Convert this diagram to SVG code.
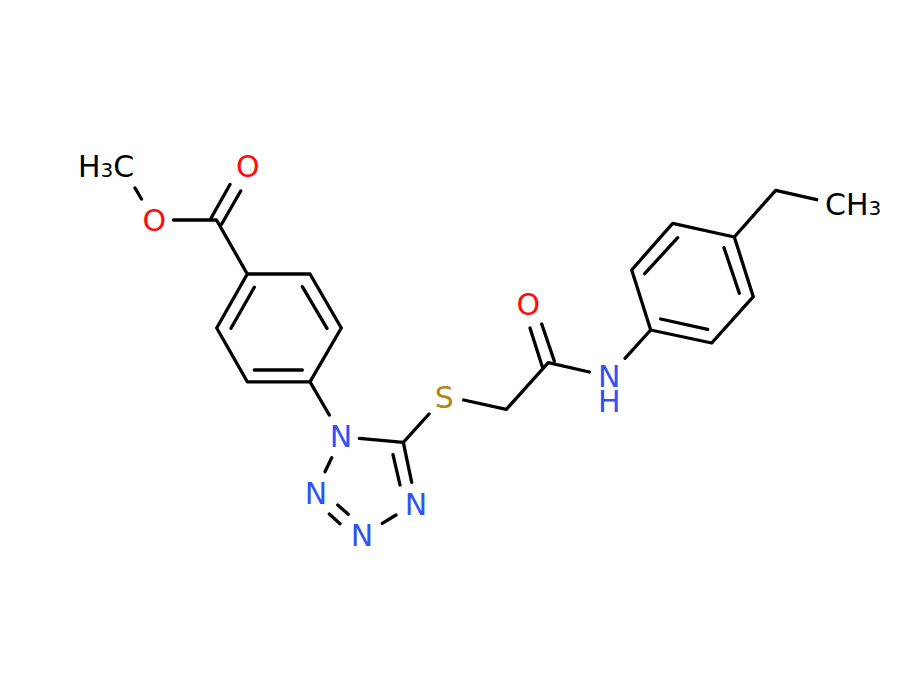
<svg xmlns="http://www.w3.org/2000/svg" width="900" height="680" viewBox="0 0 900 680">
<style>
text{font-family:"DejaVu Sans",sans-serif;font-size:30px;text-anchor:middle}
.O{fill:#ff0d0d}.N{fill:#3050f8}.S{fill:#b2861c}.C{fill:#000}
#bonds path{fill:none;stroke:#000;stroke-width:3.300;stroke-linecap:round;stroke-linejoin:round}
</style>
<rect width="900" height="680" fill="#fff"/>
<g id="bonds"><path d="M135 188L141.500 199M173.500 220L216.500 220L247.300 274L310 274L341.300 328L310 381.800L247.300 381.800L216.700 328L247.300 274M211 218.300L230 184.500M221.700 224L240.700 191M254.300 287.300L231 328.300M302.300 286.700L327 328.300M254.300 370L302.300 370M310 381.800L329.300 415M359.300 438.300L403.300 442.300L429 414M463.700 400L506.300 409.300L548.300 362.700L589.300 372M403.300 442.300L411.700 482.300M393 454.700L400 485M396 515L382.300 523.300M348.300 514.300L337.700 505M340 523.700L329.300 514M325 471.700L331.700 457.700M554.300 361L541.700 324M542.300 366.700L530 328M625 358.300L650.700 330L631.700 270L672.700 223.300L734.300 237L753.300 296.700L711.700 343L650.700 330M677.700 237.700L644.700 273.700M724 247.700L739.300 293.300M660.700 319L707.700 329.300M734.300 237L775.700 190.300L816.700 199.700"/></g>
<g id="h3c-top"><text x="78" y="177" class="C" style="text-anchor:start">H<tspan font-size="20">3</tspan>C</text></g>
<g id="o-ester"><text x="154.300" y="230.500" class="O">O</text></g>
<g id="o-carbonyl"><text x="247.700" y="176.500" class="O">O</text></g>
<g id="n1"><text x="341" y="446.700" class="N">N</text></g>
<g id="n2"><text x="316" y="503.500" class="N">N</text></g>
<g id="n3"><text x="362" y="545.500" class="N">N</text></g>
<g id="n4"><text x="416" y="514.500" class="N">N</text></g>
<g id="s"><text x="444.300" y="407.700" class="S">S</text></g>
<g id="o-amide"><text x="528.300" y="314.500" class="O">O</text></g>
<g id="nh"><text x="609.300" y="386.700" class="N">N</text><text x="609.300" y="411.500" class="N">H</text></g>
<g id="ch3-right"><text x="825" y="214.500" class="C" style="text-anchor:start">CH<tspan font-size="20">3</tspan></text></g>
</svg>
